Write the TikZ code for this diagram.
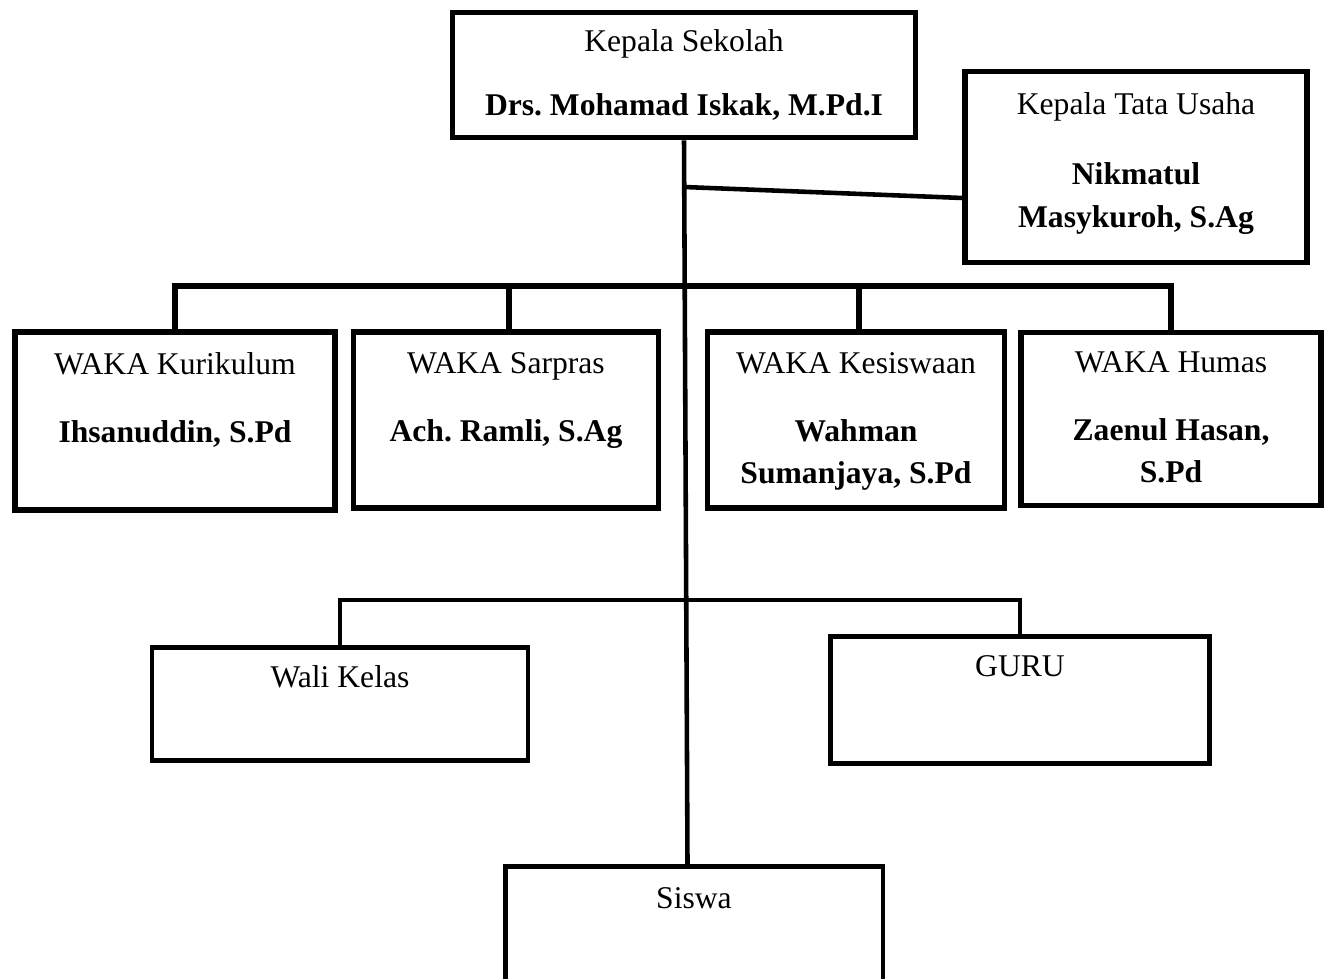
\documentclass[tikz,border=0pt]{standalone}
\usepackage{fontspec}
\setmainfont{Liberation Serif}
\usepackage{tikz}
\usetikzlibrary{calc}
\frenchspacing

\tikzset{
  jabatan/.style={draw, rectangle, line width=3.2pt, align=center, inner sep=0pt,
    font=\fontsize{18}{24}\selectfont},
  garis/.style={line width=2.6pt},
  garistebal/.style={line width=3.4pt}
}

\begin{document}
\begin{tikzpicture}[x=0.02cm,y=-0.02cm]
\useasboundingbox (0,0) rectangle (1334,979);
\clip (0,0) rectangle (1334,979);
\node[jabatan, minimum width=9.26cm, minimum height=2.5cm] (ks) at (684,75) {Kepala Sekolah\\[12pt]\textbf{Drs. Mohamad Iskak, M.Pd.I}};
\node[jabatan, minimum width=6.84cm, minimum height=3.82cm] (ktu) at (1136,167) {Kepala Tata Usaha\\[16pt]\textbf{Nikmatul}\\\textbf{Masykuroh, S.Ag}\\[-16pt]\mbox{}};
\node[jabatan, minimum width=6.4cm, minimum height=3.56cm] (kur) at (175,421) {\strut WAKA Kurikulum\\[15pt]\textbf{Ihsanuddin, S.Pd}\\\strut};
\node[jabatan, minimum width=6.1cm, minimum height=3.52cm] (sar) at (506,420) {\strut WAKA Sarpras\\[15pt]\textbf{Ach. Ramli, S.Ag}\\\strut};
\node[jabatan, minimum width=5.94cm, minimum height=3.52cm] (kes) at (856,420) {\strut WAKA Kesiswaan\\[15pt]\textbf{Wahman}\\\textbf{Sumanjaya, S.Pd}\strut};
\node[jabatan, minimum width=6.0cm, minimum height=3.46cm] (hum) at (1171,419) {\strut WAKA Humas\\[15pt]\textbf{Zaenul Hasan,}\\\textbf{S.Pd}\strut};
\node[jabatan, line width=2.8pt, minimum width=7.52cm, minimum height=2.26cm] (wali) at (340,704) {Wali Kelas\\\strut};
\node[jabatan, line width=2.8pt, minimum width=7.58cm, minimum height=2.54cm] (guru) at (1020,700) {GURU\\[8pt]\strut};
\node[jabatan, line width=2.8pt, minimum width=7.56cm, minimum height=2.5cm] (siswa) at (694,929) {Siswa\\[4pt]\strut};

\coordinate (bar1) at (683,286);
\coordinate (bar2) at (686,600);
\coordinate (j1) at (684,187);

\draw[garis] (ks.south) -- ([xshift=-0.13cm]siswa.north);
\draw[garis] (j1) -- ([yshift=-0.62cm]ktu.west);
\draw[garistebal] (kur.north) |- (bar1) -| (hum.north);
\foreach \n in {sar,kes}
  \draw[garistebal] ([xshift=0.06cm]\n.north) -- ([xshift=0.06cm]\n.north |- bar1);
\draw[garis] (wali.north) |- (bar2) -| (guru.north);
\end{tikzpicture}
\end{document}
